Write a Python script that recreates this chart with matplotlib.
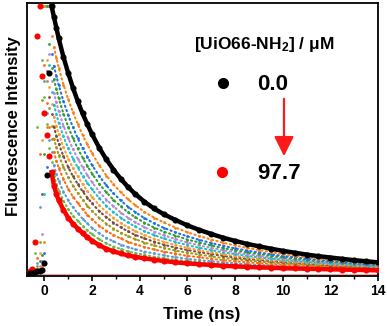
import numpy as np
import matplotlib
matplotlib.use("Agg")
import matplotlib.pyplot as plt
from matplotlib.patches import FancyArrowPatch

plt.rcParams["font.family"] = ["Liberation Sans", "DejaVu Sans"]
plt.rcParams["font.weight"] = "bold"
plt.rcParams["mathtext.fontset"] = "custom"
plt.rcParams["mathtext.rm"] = "Liberation Sans:bold"
plt.rcParams["mathtext.it"] = "Liberation Sans:bold"
plt.rcParams["mathtext.bf"] = "Liberation Sans:bold"

# ---------------------------------------------------------------------------
# data (normalised decays)
# ---------------------------------------------------------------------------
time_ns = [-0.6, -0.5, -0.4, -0.3, -0.2, -0.1, 0.0, 0.1, 0.2, 0.3, 0.4, 0.5, 0.6,
           0.8, 1.0, 1.2, 1.4, 1.6, 1.8, 2.0, 2.3, 2.6, 2.9, 3.2, 3.5, 3.8,
           4.2, 4.6, 5.0, 5.5, 6.0, 6.5, 7.0, 7.5, 8.0, 8.5, 9.0, 9.5, 10.0,
           10.5, 11.0, 11.5, 12.0, 12.5, 13.0, 13.5, 14.0]

conc_0 = [0.005, 0.006, 0.008, 0.01, 0.012, 0.015, 0.04, 0.37, 0.75, 1.0, 0.96, 0.92, 0.88,
          0.81, 0.75, 0.695, 0.645, 0.60, 0.56, 0.522, 0.472, 0.428, 0.39, 0.356, 0.326, 0.30,
          0.27, 0.245, 0.224, 0.202, 0.182, 0.165, 0.15, 0.136, 0.124, 0.113, 0.104, 0.095, 0.087,
          0.08, 0.073, 0.067, 0.062, 0.057, 0.052, 0.048, 0.044]

conc_max = [0.01, 0.02, 0.12, 0.89, 1.0, 0.74, 0.60, 0.52, 0.44, 0.38, 0.33, 0.30, 0.275,
            0.24, 0.21, 0.188, 0.17, 0.153, 0.138, 0.125, 0.108, 0.095, 0.085, 0.077, 0.07, 0.065,
            0.059, 0.054, 0.049, 0.044, 0.04, 0.037, 0.034, 0.031, 0.029, 0.027, 0.025, 0.024, 0.022,
            0.021, 0.02, 0.019, 0.018, 0.017, 0.016, 0.015, 0.014]

mid_1 = [0.01, 0.01, 0.01, 0.01, 0.02, 0.03, 0.12, 0.55, 1.0, 0.888, 0.847, 0.808, 0.771,
         0.707, 0.653, 0.604, 0.560, 0.520, 0.484, 0.451, 0.406, 0.368, 0.335, 0.306, 0.280, 0.258,
         0.232, 0.211, 0.193, 0.174, 0.156, 0.142, 0.129, 0.117, 0.107, 0.098, 0.090, 0.082, 0.075,
         0.069, 0.063, 0.058, 0.054, 0.050, 0.046, 0.042, 0.039]
mid_2 = [0.01, 0.01, 0.01, 0.01, 0.015, 0.02, 0.08, 0.40, 1.0, 0.82, 0.777, 0.74, 0.705,
         0.645, 0.593, 0.548, 0.507, 0.470, 0.438, 0.407, 0.366, 0.331, 0.302, 0.275, 0.252, 0.232,
         0.209, 0.190, 0.173, 0.156, 0.141, 0.128, 0.116, 0.106, 0.096, 0.088, 0.081, 0.074, 0.068,
         0.063, 0.058, 0.053, 0.049, 0.045, 0.042, 0.038, 0.035]
mid_3 = [0.01, 0.01, 0.01, 0.015, 0.02, 0.07, 0.45, 1.0, 0.86, 0.771, 0.727, 0.691, 0.656,
         0.599, 0.550, 0.507, 0.469, 0.435, 0.404, 0.375, 0.337, 0.305, 0.277, 0.253, 0.231, 0.213,
         0.192, 0.174, 0.159, 0.144, 0.129, 0.118, 0.107, 0.097, 0.089, 0.081, 0.075, 0.069, 0.063,
         0.058, 0.053, 0.049, 0.046, 0.042, 0.039, 0.036, 0.033]
mid_4 = [0.01, 0.01, 0.01, 0.015, 0.03, 0.15, 0.60, 1.0, 0.82, 0.721, 0.677, 0.641, 0.608,
         0.554, 0.507, 0.467, 0.431, 0.399, 0.370, 0.343, 0.308, 0.278, 0.253, 0.230, 0.211, 0.194,
         0.175, 0.159, 0.145, 0.131, 0.118, 0.107, 0.098, 0.089, 0.081, 0.074, 0.068, 0.063, 0.058,
         0.053, 0.049, 0.045, 0.042, 0.039, 0.036, 0.033, 0.031]
mid_5 = [0.01, 0.01, 0.01, 0.015, 0.02, 0.05, 0.30, 1.0, 0.78, 0.678, 0.632, 0.598, 0.565,
         0.514, 0.469, 0.431, 0.398, 0.368, 0.341, 0.316, 0.283, 0.255, 0.231, 0.211, 0.193, 0.178,
         0.160, 0.146, 0.133, 0.120, 0.108, 0.098, 0.090, 0.081, 0.075, 0.068, 0.063, 0.058, 0.053,
         0.049, 0.045, 0.042, 0.039, 0.036, 0.033, 0.031, 0.028]
mid_6 = [0.01, 0.01, 0.01, 0.02, 0.08, 0.50, 1.0, 0.80, 0.70, 0.634, 0.588, 0.554, 0.523,
         0.474, 0.431, 0.396, 0.365, 0.336, 0.311, 0.288, 0.257, 0.232, 0.210, 0.191, 0.175, 0.161,
         0.146, 0.132, 0.121, 0.109, 0.098, 0.089, 0.082, 0.074, 0.068, 0.062, 0.057, 0.053, 0.049,
         0.045, 0.042, 0.039, 0.036, 0.033, 0.031, 0.029, 0.026]
mid_7 = [0.01, 0.01, 0.01, 0.02, 0.05, 0.30, 1.0, 0.76, 0.66, 0.597, 0.551, 0.517, 0.487,
         0.440, 0.399, 0.365, 0.336, 0.309, 0.286, 0.264, 0.235, 0.212, 0.192, 0.175, 0.160, 0.147,
         0.133, 0.121, 0.110, 0.099, 0.090, 0.082, 0.075, 0.068, 0.062, 0.057, 0.053, 0.049, 0.045,
         0.042, 0.039, 0.036, 0.033, 0.031, 0.029, 0.027, 0.025]
mid_8 = [0.01, 0.01, 0.015, 0.03, 0.12, 0.65, 1.0, 0.72, 0.62, 0.554, 0.506, 0.474, 0.444,
         0.400, 0.361, 0.330, 0.303, 0.278, 0.256, 0.236, 0.210, 0.188, 0.170, 0.155, 0.142, 0.131,
         0.118, 0.107, 0.098, 0.088, 0.080, 0.073, 0.066, 0.060, 0.056, 0.051, 0.047, 0.044, 0.040,
         0.038, 0.035, 0.032, 0.030, 0.028, 0.026, 0.024, 0.022]
mid_9 = [0.01, 0.01, 0.02, 0.06, 0.45, 1.0, 0.78, 0.64, 0.55, 0.504, 0.456, 0.424, 0.396,
         0.354, 0.318, 0.289, 0.265, 0.242, 0.222, 0.204, 0.181, 0.162, 0.146, 0.133, 0.121, 0.112,
         0.101, 0.092, 0.084, 0.076, 0.068, 0.063, 0.057, 0.052, 0.048, 0.044, 0.041, 0.038, 0.035,
         0.033, 0.031, 0.029, 0.027, 0.025, 0.023, 0.022, 0.020]
mid_10 = [0.01, 0.01, 0.015, 0.04, 0.25, 1.0, 0.72, 0.60, 0.50, 0.454, 0.406, 0.374, 0.348,
          0.308, 0.275, 0.249, 0.227, 0.207, 0.189, 0.173, 0.152, 0.135, 0.122, 0.110, 0.101, 0.093,
          0.084, 0.077, 0.070, 0.063, 0.057, 0.052, 0.048, 0.044, 0.040, 0.037, 0.034, 0.033, 0.030,
          0.028, 0.026, 0.025, 0.023, 0.022, 0.020, 0.019, 0.018]
mid_11 = [0.01, 0.02, 0.08, 0.55, 1.0, 0.80, 0.66, 0.56, 0.47, 0.417, 0.368, 0.337, 0.311,
          0.274, 0.242, 0.218, 0.199, 0.180, 0.163, 0.149, 0.130, 0.115, 0.103, 0.094, 0.085, 0.079,
          0.072, 0.065, 0.060, 0.053, 0.049, 0.045, 0.041, 0.037, 0.035, 0.032, 0.030, 0.028, 0.026,
          0.025, 0.023, 0.022, 0.021, 0.019, 0.018, 0.017, 0.016]

mid_series = [mid_1, mid_2, mid_3, mid_4, mid_5, mid_6, mid_7, mid_8, mid_9, mid_10, mid_11]
mid_colors = ["#ff7f0e", "#1f6fe5", "#2ca02c", "#b389d6", "#17becf", "#ff9a2e",
              "#7b4a3c", "#9c9a1a", "#ff6a10", "#5b9bd5", "#66bb44"]

legend_title = "[UiO66-NH$_2$] / \u03bcM"
legend_low = "0.0"
legend_high = "97.7"


def _decay(ax, y, color, ms, lw, z, ls="-", join_from=None):
    """markers everywhere, joined by a line over the slow part of the decay"""
    t = np.asarray(time_ns)
    y = np.asarray(y)
    i0 = int(np.argmax(y))
    if join_from is not None:
        i0 = max(i0, int(np.searchsorted(t, join_from)))
    ax.plot(t[i0:], y[i0:], linestyle=ls, color=color, lw=lw, zorder=z,
            dash_capstyle="round")
    ax.plot(t, y, "o", color=color, ms=ms, mew=0, zorder=z)


fig = plt.figure(figsize=(3.87, 3.26), dpi=100)
ax = fig.add_axes([27 / 387, 1 - 276 / 326, 351 / 387, 273 / 326])

ax.axhline(0, color="#f4a3a3", lw=0.8, zorder=1)
for y, c in reversed(list(zip(mid_series, mid_colors))):
    _decay(ax, y, c, 2.0, 1.5, 3, ls=(0, (0.6, 1.6)), join_from=0.4)
_decay(ax, conc_max, "#ff0000", 4.4, 3.2, 5, join_from=0.3)
_decay(ax, conc_0, "#000000", 4.4, 3.2, 6)

ax.set_xlim(-0.73, 14)
ax.set_ylim(-0.007, 1.012)
ax.set_xticks(range(0, 15, 2))
ax.set_xticks(range(1, 14, 2), minor=True)
ax.set_yticks([])
ax.tick_params(axis="x", which="major", direction="out", length=3.5, width=1.2,
               labelsize=10, pad=2)
ax.tick_params(axis="x", which="minor", direction="out", length=2, width=1)
for lab in ax.get_xticklabels():
    lab.set_fontweight("bold")
for s in ax.spines.values():
    s.set_linewidth(1.3)
ax.set_xlabel("Time (ns)", fontsize=12.5, fontweight="bold")
ax.set_ylabel("Fluorescence Intensity", fontsize=12, fontweight="bold")
ax.xaxis.set_label_coords((202 / 387 - 27 / 387) / (351 / 387), -(315 - 276) / 273)
ax.yaxis.set_label_coords(-(27 - 14) / 351, (276 - 126) / 273)
ax.xaxis.label.set_va("center")
ax.yaxis.label.set_va("center")

# legend block drawn inside the frame
F = fig.transFigure
fig.text(264 / 387, 1 - 45 / 326, legend_title, fontsize=12.5, fontweight="bold",
         ha="center", va="center")
fig.text(257 / 387, 1 - 84 / 326, legend_low, fontsize=16, fontweight="bold",
         ha="left", va="center")
fig.text(257 / 387, 1 - 173 / 326, legend_high, fontsize=16, fontweight="bold",
         ha="left", va="center")
ax.plot([223 / 387], [1 - 83 / 326], "o", color="black", ms=7, transform=F, clip_on=False)
ax.plot([222 / 387], [1 - 172 / 326], "o", color="red", ms=7, transform=F, clip_on=False)
arrow = FancyArrowPatch((284 / 387, 1 - 96 / 326), (284 / 387, 1 - 159 / 326),
                        transform=F, arrowstyle="-|>,head_width=4,head_length=8",
                        color="#ff1a1a", lw=1.6, mutation_scale=1.5)
fig.add_artist(arrow)

fig.savefig("out.png", dpi=100)
